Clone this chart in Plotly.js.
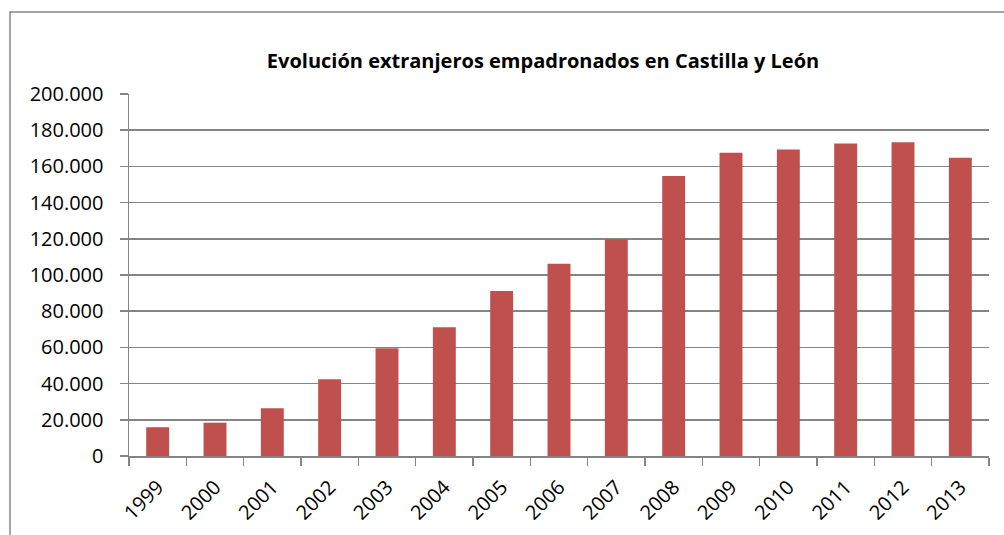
<!DOCTYPE html>
<html>
<head>
<meta charset="utf-8">
<script src="https://cdn.plot.ly/plotly-3.0.1.min.js"></script>
<style>
  html, body { margin: 0; padding: 0; background: #ffffff; }
  #chart { width: 1004px; height: 535px; }
</style>
</head>
<body>
<div id="chart"></div>
<script>
const years = ['1999','2000','2001','2002','2003','2004','2005','2006','2007','2008','2009','2010','2011','2012','2013'];
const extranjeros = [15900, 18400, 26400, 42400, 59500, 71200, 91200, 106200, 119800, 154700, 167500, 169400, 172700, 173400, 164800];
const yTicks = [0, 20000, 40000, 60000, 80000, 100000, 120000, 140000, 160000, 180000, 200000];
const chartTitle = 'Evolución extranjeros empadronados en Castilla y León';

const W = 1004, H = 535;
const m = {l: 129, r: 15, t: 94, b: 79};
const pw = W - m.l - m.r, ph = H - m.t - m.b;
const px = v => (v - m.l) / pw;
const py = v => (H - m.b - v) / ph;

const fontFam = '"Open Sans", "Liberation Sans", sans-serif';

const data = [{
  type: 'bar',
  x: years,
  y: extranjeros,
  marker: {color: '#C0504D', line: {width: 0}},
  hoverinfo: 'x+y'
}];

const layout = {
  width: W, height: H,
  margin: m,
  paper_bgcolor: 'rgba(0,0,0,0)',
  plot_bgcolor: '#ffffff',
  separators: ',.',
  showlegend: false,
  bargap: 0.6,
  font: {family: fontFam, size: 20, color: '#000000'},
  title: {
    text: '<b>' + chartTitle + '</b>',
    font: {family: fontFam, size: 20, color: '#000000'},
    x: 543 / W, xref: 'container', xanchor: 'center',
    y: 1 - 61 / H, yref: 'container', yanchor: 'middle'
  },
  xaxis: {
    type: 'category',
    tickangle: -45,
    ticks: 'outside', ticklen: 8, tickwidth: 1.5, tickcolor: '#858585',
    tickson: 'boundaries',
    showline: true, linecolor: '#858585', linewidth: 1.5,
    showgrid: false,
    tickfont: {family: fontFam, size: 20, color: '#000000'},
    ticklabelstandoff: 10,
    fixedrange: true
  },
  yaxis: {
    range: [0, 200000],
    tickvals: yTicks,
    tickformat: ',d',
    ticks: 'outside', ticklen: 8, tickwidth: 1.5, tickcolor: '#858585',
    showline: true, linecolor: '#858585', linewidth: 1.5,
    showgrid: true, gridcolor: '#858585', gridwidth: 1.5,
    zeroline: false,
    tickfont: {family: fontFam, size: 20, color: '#000000'},
    ticklabelstandoff: 12,
    fixedrange: true
  },
  shapes: [{
    type: 'path', xref: 'paper', yref: 'paper',
    path: 'M ' + px(10) + ' ' + py(H + 5) + ' L ' + px(10) + ' ' + py(12) + ' L ' + px(W + 5) + ' ' + py(12),
    line: {color: '#868686', width: 1.5},
    layer: 'below'
  }]
};

Plotly.newPlot('chart', data, layout, {displayModeBar: false, staticPlot: true});
</script>
</body>
</html>
